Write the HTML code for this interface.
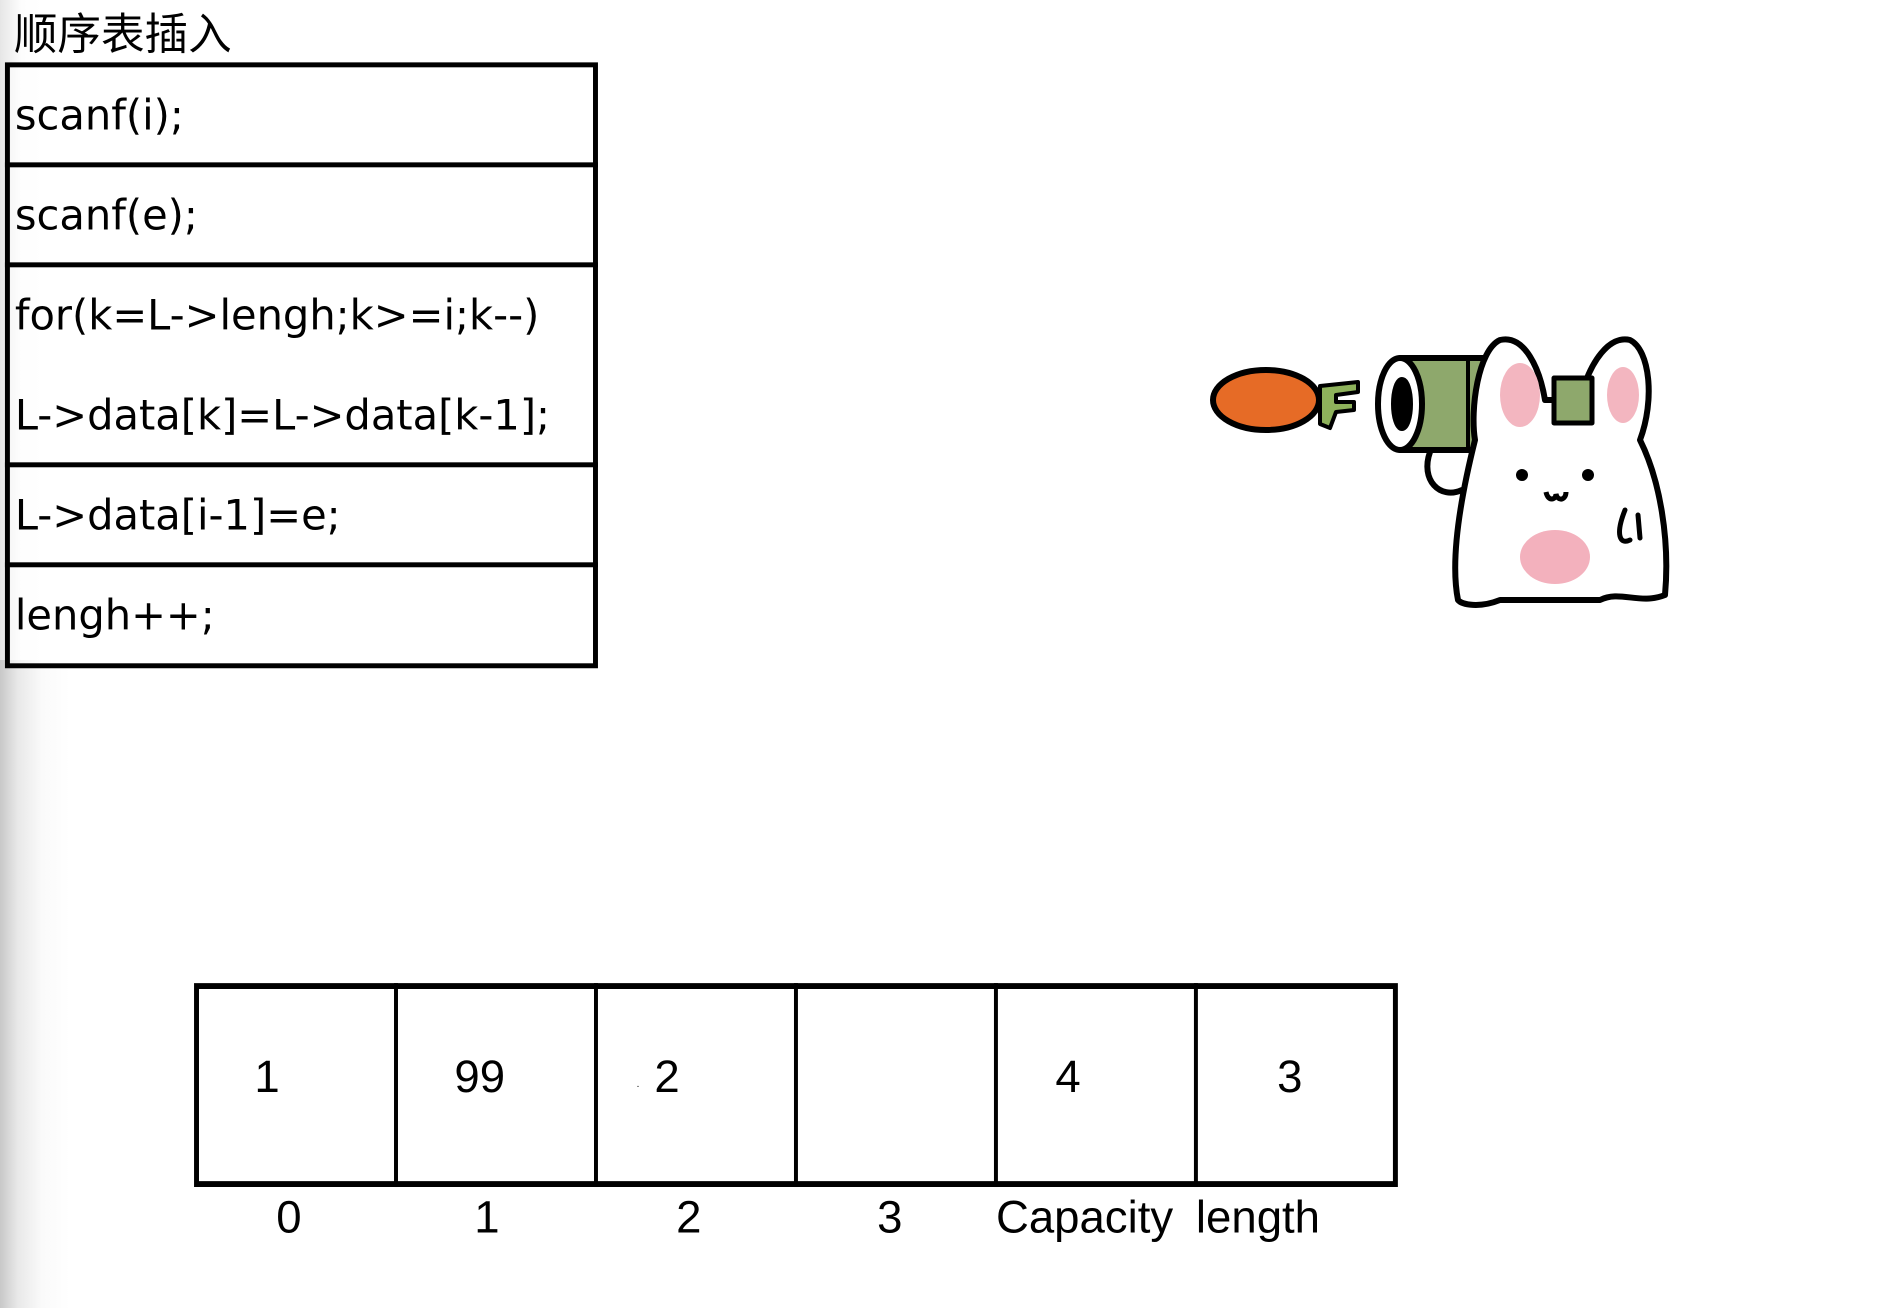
<!DOCTYPE html>
<html><head><meta charset="utf-8"><style>
html,body{margin:0;padding:0}
body{width:1887px;height:1308px;position:relative;overflow:hidden;background:#fff;font-family:"Liberation Sans","Noto Sans CJK SC",sans-serif;color:#000}
.shade{position:absolute;left:0;top:0;width:70px;height:1308px;background:linear-gradient(to right,#c8c8c8,#e8e8e8 25%,#fafafa 60%,rgba(255,255,255,0))}
.shadeTop{position:absolute;left:0;top:0;width:70px;height:660px;background:linear-gradient(to right,#e6e6e6,#fdfdfd 30%,#fff 60%)}
#w{position:absolute;left:0;top:0;width:1887px;height:1308px;transform:scale(0.99);transform-origin:0 0}
.t{position:absolute;white-space:nowrap}
.box{position:absolute;border:5px solid #000;box-sizing:border-box;background:transparent}
.hl{position:absolute;background:#000}
.code{font-family:"DejaVu Sans",sans-serif;font-size:42px;line-height:1}
.num{font-family:"Liberation Sans Narrow","Liberation Sans",sans-serif;font-size:46px;line-height:1}
</style></head><body>
<div class="shade"></div><div class="shadeTop"></div>
<div id="w">
<div class="t" style="left:14px;top:14px;font-size:44px;line-height:1;">顺序表插入</div>
<div class="box" style="left:5px;top:63px;width:599px;height:612px;background:rgba(255,255,255,0.4)"></div>
<div class="hl" style="left:5px;top:164px;width:599px;height:5px"></div>
<div class="hl" style="left:5px;top:265px;width:599px;height:5px"></div>
<div class="hl" style="left:5px;top:467px;width:599px;height:5px"></div>
<div class="hl" style="left:5px;top:568px;width:599px;height:5px"></div>
<div class="t code" style="left:15px;top:96px">scanf(i);</div>
<div class="t code" style="left:15px;top:197px">scanf(e);</div>
<div class="t code" style="left:15px;top:298px">for(k=L-&gt;lengh;k&gt;=i;k--)</div>
<div class="t code" style="left:15px;top:399px">L-&gt;data[k]=L-&gt;data[k-1];</div>
<div class="t code" style="left:15px;top:500px">L-&gt;data[i-1]=e;</div>
<div class="t code" style="left:15px;top:601px">lengh++;</div>

<div class="box" style="left:196px;top:993px;width:1216px;height:206px;border-width:6px 5px"></div>
<div class="hl" style="left:398px;top:993px;width:4px;height:206px"></div>
<div class="hl" style="left:600px;top:993px;width:4px;height:206px"></div>
<div class="hl" style="left:802px;top:993px;width:4px;height:206px"></div>
<div class="hl" style="left:1004px;top:993px;width:4px;height:206px"></div>
<div class="hl" style="left:1206px;top:993px;width:4px;height:206px"></div>
<div class="t num" style="left:257px;top:1064px">1</div>
<div class="t num" style="left:459px;top:1064px">99</div>
<div class="t" style="left:643px;top:1090px;font-size:10px">.</div>
<div class="t num" style="left:661px;top:1064px">2</div>
<div class="t num" style="left:1066px;top:1064px">4</div>
<div class="t num" style="left:1290px;top:1064px">3</div>
<div class="t num" style="left:279px;top:1206px">0</div>
<div class="t num" style="left:479px;top:1206px">1</div>
<div class="t num" style="left:683px;top:1206px">2</div>
<div class="t num" style="left:886px;top:1206px">3</div>
<div class="t num" style="left:1006px;top:1206px">Capacity</div>
<div class="t num" style="left:1208px;top:1206px">length</div>
</div>

<svg style="position:absolute;left:0;top:0" width="1887" height="1308">
<g stroke="#000" stroke-width="6" stroke-linejoin="round" stroke-linecap="round">
<ellipse cx="1266" cy="400" rx="53" ry="30" fill="#e66b26"/>
<path d="M1320 386 L1358 382 L1358 392 L1336 395 L1336 402 L1354 402 L1354 410 L1336 412 L1330 428 L1320 424 Z" fill="#8eb25b" stroke-width="4"/>
<rect x="1400" y="358" width="92" height="92" fill="#8ea86c"/>
<path d="M1468 358 L1468 450" fill="none" stroke-width="4"/>
<ellipse cx="1400" cy="404" rx="22" ry="46" fill="#fff"/>
<ellipse cx="1402" cy="404" rx="8" ry="24" fill="#000"/>
<path d="M1430 452 C1420 480 1440 500 1462 490" fill="none"/>
<path d="M1458 600 C1450 560 1460 500 1475 440 C1470 410 1478 350 1500 340 C1525 334 1540 370 1545 400 L1580 400 C1590 360 1610 335 1630 340 C1650 350 1655 400 1640 440 C1660 480 1670 540 1665 595 C1640 605 1620 590 1600 600 L1500 600 C1480 608 1462 605 1458 600 Z" fill="#fff"/>
<rect x="1554" y="378" width="38" height="45" fill="#8ea86c" stroke-width="5"/>
<path d="M1625 510 C1615 535 1620 545 1630 540 M1638 515 L1640 538" fill="none" stroke-width="5"/>
</g>
<ellipse cx="1520" cy="395" rx="20" ry="32" fill="#f3b6c0"/>
<ellipse cx="1623" cy="395" rx="16" ry="28" fill="#f3b6c0"/>
<ellipse cx="1555" cy="557" rx="35" ry="27" fill="#f3b1bd"/>
<circle cx="1522" cy="475" r="6" fill="#000"/>
<circle cx="1588" cy="475" r="6" fill="#000"/>
<path d="M1546 492 C1548 502 1556 500 1556 494 C1558 502 1566 500 1566 492" fill="none" stroke="#000" stroke-width="5"/>
</svg>
</body></html>
